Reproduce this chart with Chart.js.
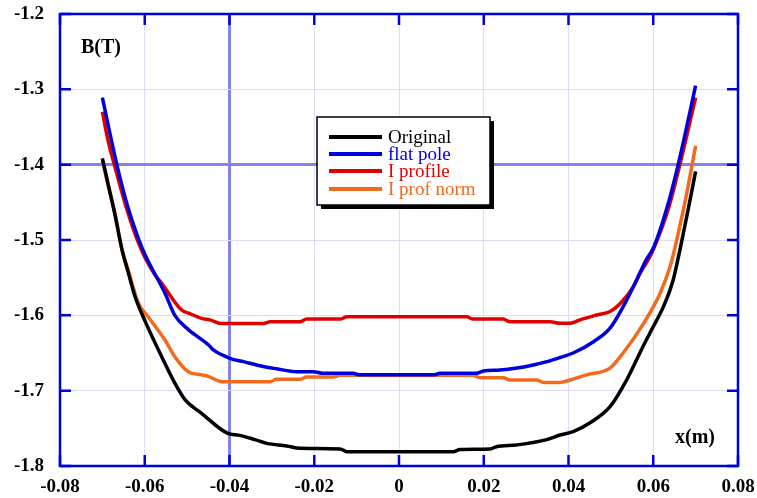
<!DOCTYPE html>
<html>
<head>
<meta charset="utf-8">
<script src="https://cdn.jsdelivr.net/npm/chart.js@4"></script>
<style>
  html, body { margin: 0; padding: 0; background: #fff; }
  #wrap { width: 757px; height: 498px; }
</style>
</head>
<body>
<div id="wrap"><canvas id="myChart"></canvas></div>
<script>
// field profiles B(T) along x(m)
const origX = [-0.070, -0.0686, -0.067, -0.0654, -0.0639, -0.0623, -0.0599, -0.056, -0.0529, -0.0505, -0.0466, -0.0403, -0.0379, -0.034, -0.0312, -0.0265, -0.0234, -0.0139, -0.0123, 0.0128, 0.0144, 0.0215, 0.023, 0.0278, 0.0349, 0.038, 0.0411, 0.045, 0.0498, 0.0537, 0.0577, 0.060, 0.0624, 0.0647, 0.0663, 0.0679, 0.070];
const origY = [-1.3916, -1.427, -1.467, -1.512, -1.543, -1.575, -1.608, -1.655, -1.690, -1.712, -1.730, -1.757, -1.759, -1.765, -1.770, -1.7734, -1.7765, -1.7774, -1.781, -1.781, -1.778, -1.7774, -1.7744, -1.772, -1.765, -1.7589, -1.7544, -1.743, -1.7213, -1.686, -1.640, -1.615, -1.5885, -1.553, -1.513, -1.469, -1.409];

const flatX = [-0.070, -0.0666, -0.0639, -0.0615, -0.0599, -0.0552, -0.0529, -0.0497, -0.0481, -0.045, -0.0438, -0.0399, -0.0367, -0.032, -0.0289, -0.0241, -0.0202, -0.0179, -0.0108, -0.0092, 0.0081, 0.0097, 0.0183, 0.0199, 0.0238, 0.0278, 0.0317, 0.0349, 0.038, 0.0411, 0.0459, 0.0498, 0.0529, 0.0557, 0.0583, 0.060, 0.0632, 0.0659, 0.070];
const flatY = [-1.311, -1.3995, -1.458, -1.498, -1.520, -1.571, -1.600, -1.619, -1.626, -1.639, -1.646, -1.657, -1.6615, -1.668, -1.671, -1.6748, -1.6748, -1.677, -1.677, -1.679, -1.679, -1.677, -1.677, -1.674, -1.6726, -1.670, -1.666, -1.6615, -1.656, -1.650, -1.635, -1.617, -1.5885, -1.5575, -1.5265, -1.511, -1.458, -1.3995, -1.295];

const iprofX = [-0.070, -0.0686, -0.0672, -0.0643, -0.0619, -0.0599, -0.0576, -0.056, -0.0513, -0.0497, -0.0466, -0.0446, -0.0418, -0.032, -0.0304, -0.0234, -0.0218, -0.0139, -0.0123, 0.016, 0.0175, 0.0246, 0.0262, 0.0356, 0.038, 0.0404, 0.0427, 0.0467, 0.0498, 0.0526, 0.0553, 0.0569, 0.0588, 0.060, 0.0636, 0.0663, 0.070];
const iprofY = [-1.330, -1.3695, -1.3995, -1.458, -1.498, -1.524, -1.546, -1.5575, -1.593, -1.597, -1.604, -1.606, -1.611, -1.611, -1.6085, -1.6085, -1.605, -1.605, -1.602, -1.602, -1.605, -1.605, -1.6085, -1.6085, -1.6106, -1.6106, -1.606, -1.5995, -1.595, -1.582, -1.562, -1.544, -1.5265, -1.513, -1.458, -1.3995, -1.311];

const normX = [-0.070, -0.0686, -0.067, -0.0654, -0.0639, -0.0615, -0.0592, -0.0552, -0.0529, -0.0497, -0.0466, -0.045, -0.0418, -0.0304, -0.0289, -0.0234, -0.0218, -0.0155, -0.0139, 0.0175, 0.0191, 0.0246, 0.0262, 0.0325, 0.0341, 0.038, 0.0404, 0.0443, 0.0498, 0.0529, 0.0577, 0.0616, 0.064, 0.0659, 0.0679, 0.070];
const normY = [-1.395, -1.428, -1.466, -1.512, -1.540, -1.584, -1.602, -1.633, -1.655, -1.675, -1.679, -1.681, -1.688, -1.688, -1.685, -1.685, -1.682, -1.682, -1.6796, -1.6796, -1.6828, -1.6828, -1.6858, -1.6858, -1.689, -1.689, -1.6858, -1.679, -1.670, -1.650, -1.611, -1.571, -1.535, -1.491, -1.438, -1.375];

const seriesNames = ['Original', 'flat pole', 'I profile', 'I prof norm'];
const seriesColors = ['#000000', '#0000dd', '#e00000', '#f26a1b'];

const xTickVals = [-0.08, -0.06, -0.04, -0.02, 0, 0.02, 0.04, 0.06, 0.08];
const xTickLabels = ['-0.08', '-0.06', '-0.04', '-0.02', '0', '0.02', '0.04', '0.06', '0.08'];
const yTickVals = [-1.2, -1.3, -1.4, -1.5, -1.6, -1.7, -1.8];
const yTickLabels = ['-1.2', '-1.3', '-1.4', '-1.5', '-1.6', '-1.7', '-1.8'];

const FRAME = '#0000dd';
const GRID = '#dcdcf6';
const GRID_MARK = '#8282ea';
const tickFont = { family: '"Liberation Serif", "Times New Roman", serif', size: 19, weight: 'bold' };

function pairs(xs, ys) {
  return xs.map((x, i) => ({ x: x, y: ys[i] }));
}

const near = (a, b) => Math.abs(a - b) < 1e-9;

// frame, inward ticks, axis names and the boxed legend
const decor = {
  id: 'decor',
  afterDraw(chart) {
    const { ctx, chartArea: a, scales: { x, y } } = chart;
    ctx.save();
    ctx.strokeStyle = FRAME;
    ctx.lineWidth = 2.5;
    ctx.strokeRect(a.left, a.top, a.right - a.left, a.bottom - a.top);
    ctx.beginPath();
    xTickVals.forEach(v => {
      const px = x.getPixelForValue(v);
      ctx.moveTo(px, a.bottom); ctx.lineTo(px, a.bottom - 11);
      ctx.moveTo(px, a.top); ctx.lineTo(px, a.top + 11);
    });
    yTickVals.forEach(v => {
      const py = y.getPixelForValue(v);
      ctx.moveTo(a.left, py); ctx.lineTo(a.left + 11, py);
      ctx.moveTo(a.right, py); ctx.lineTo(a.right - 11, py);
    });
    ctx.stroke();

    ctx.fillStyle = '#000';
    ctx.font = 'bold 20px "Liberation Serif", serif';
    ctx.textBaseline = 'alphabetic';
    ctx.textAlign = 'left';
    ctx.fillText('B(T)', 81, 53);
    ctx.fillText('x(m)', 675, 443);

    // legend box with drop shadow
    const bx = 317, by = 117, bw = 173, bh = 88;
    ctx.fillStyle = '#000';
    ctx.fillRect(bx + 4, by + 4, bw, bh);
    ctx.fillStyle = '#fff';
    ctx.fillRect(bx, by, bw, bh);
    ctx.strokeStyle = '#000';
    ctx.lineWidth = 1.5;
    ctx.strokeRect(bx, by, bw, bh);
    ctx.font = '19px "Liberation Serif", serif';
    const rows = [137, 154, 171, 189];
    seriesNames.forEach((name, i) => {
      ctx.strokeStyle = seriesColors[i];
      ctx.lineWidth = 4;
      ctx.beginPath();
      ctx.moveTo(329, rows[i]);
      ctx.lineTo(382, rows[i]);
      ctx.stroke();
      ctx.fillStyle = seriesColors[i];
      ctx.fillText(name, 388, rows[i] + 6);
    });
    ctx.restore();
  }
};

const ctx = document.getElementById('myChart').getContext('2d');
new Chart(ctx, {
  type: 'scatter',
  data: {
    datasets: [
      { label: seriesNames[0], data: pairs(origX, origY), borderColor: seriesColors[0] },
      { label: seriesNames[1], data: pairs(flatX, flatY), borderColor: seriesColors[1] },
      { label: seriesNames[2], data: pairs(iprofX, iprofY), borderColor: seriesColors[2] },
      { label: seriesNames[3], data: pairs(normX, normY), borderColor: seriesColors[3] }
    ]
  },
  options: {
    responsive: true,
    maintainAspectRatio: false,
    animation: false,
    showLine: true,
    elements: {
      point: { radius: 0 },
      line: { borderWidth: 3.5, cubicInterpolationMode: 'monotone', fill: false, borderJoinStyle: 'round', borderCapStyle: 'butt' }
    },
    layout: { padding: { top: 14, right: 19, left: 0, bottom: 0 } },
    plugins: { legend: { display: false }, tooltip: { enabled: false } },
    scales: {
      x: {
        type: 'linear',
        min: -0.08,
        max: 0.08,
        afterBuildTicks: s => { s.ticks = xTickVals.map(v => ({ value: v })); },
        afterFit: s => { s.height = 32; s.paddingLeft = 0; s.paddingRight = 0; },
        border: { display: false },
        grid: {
          drawTicks: false,
          color: c => (c.tick && near(c.tick.value, -0.04)) ? GRID_MARK : GRID,
          lineWidth: c => (c.tick && near(c.tick.value, -0.04)) ? 3 : 1
        },
        ticks: {
          autoSkip: false,
          maxRotation: 0,
          padding: 10,
          color: '#000',
          font: tickFont,
          callback: (v, i) => xTickLabels[i]
        }
      },
      y: {
        type: 'linear',
        min: -1.8,
        max: -1.2,
        afterBuildTicks: s => { s.ticks = yTickVals.map(v => ({ value: v })); },
        afterFit: s => { s.width = 60; s.paddingTop = 0; s.paddingBottom = 0; },
        border: { display: false },
        grid: {
          drawTicks: false,
          color: c => (c.tick && near(c.tick.value, -1.4)) ? GRID_MARK : GRID,
          lineWidth: c => (c.tick && near(c.tick.value, -1.4)) ? 3 : 1
        },
        ticks: {
          autoSkip: false,
          padding: 16,
          color: '#000',
          font: tickFont,
          callback: (v, i) => yTickLabels[i]
        }
      }
    }
  },
  plugins: [decor]
});
</script>
</body>
</html>
